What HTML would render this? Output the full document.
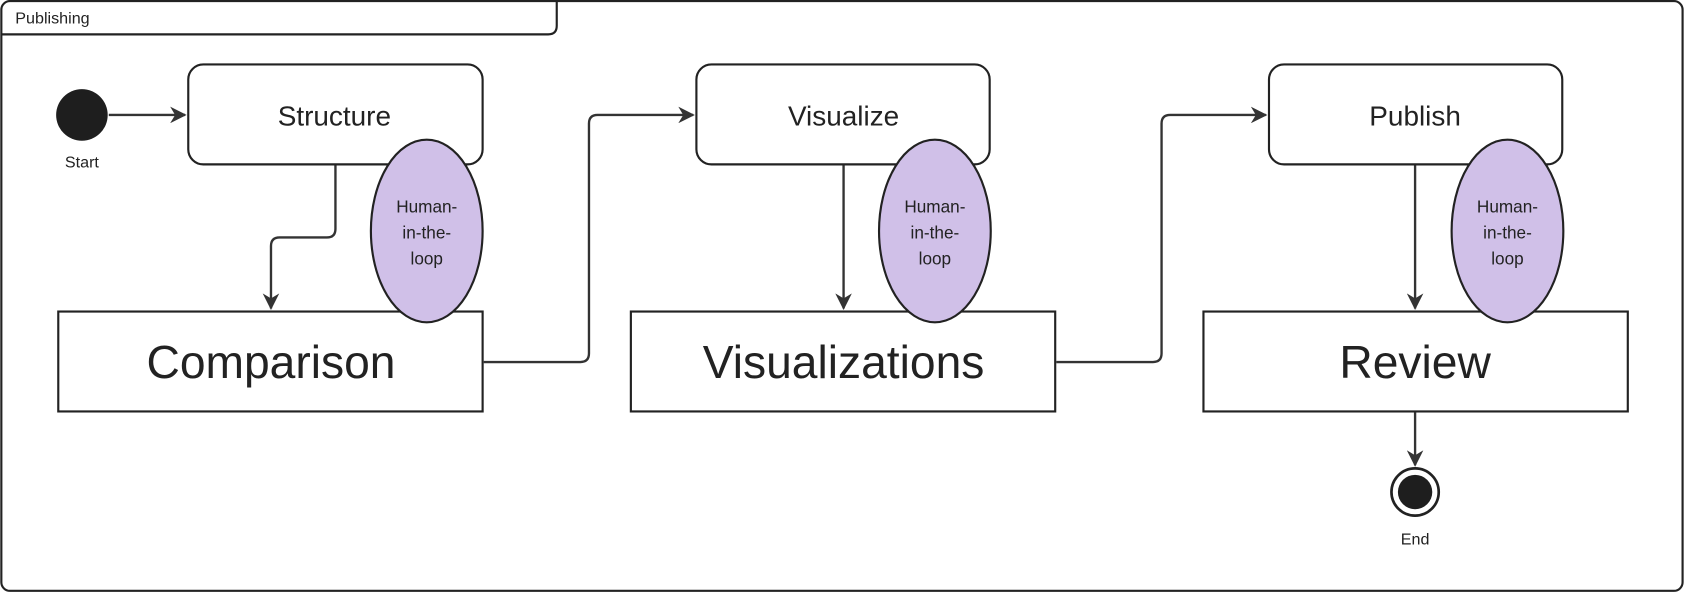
<!DOCTYPE html>
<html><head><meta charset="utf-8"><style>
html,body{margin:0;padding:0;background:#fff;}
svg{display:block;}
text{font-family:"Liberation Sans",sans-serif;fill:#222;}
</style></head><body>
<svg width="1685" height="593" viewBox="0 0 1568 552" xmlns="http://www.w3.org/2000/svg">
<defs>
<marker id="a" viewBox="0 0 10 10" refX="9" refY="5" markerWidth="7" markerHeight="7" orient="auto">
<path d="M0,0 L10,5 L0,10 L3,5 z" fill="#333"/></marker>
</defs>
<rect x="1" y="1" width="1565" height="549" rx="8" fill="#fff" stroke="#222" stroke-width="2"/>
<path d="M1,32 H510 Q518,32 518,24 V1" fill="none" stroke="#222" stroke-width="2"/>
<text x="14" y="22" font-size="15">Publishing</text>

<g fill="none" stroke="#333" stroke-width="2.2">
<path d="M101,107 H172" marker-end="url(#a)"/>
<path d="M312,154 V213 Q312,221 304,221 H260 Q252,221 252,229 V287" marker-end="url(#a)"/>
<path d="M450,337 H540 Q548,337 548,329 V115 Q548,107 556,107 H645" marker-end="url(#a)"/>
<path d="M785,154 V287" marker-end="url(#a)"/>
<path d="M983,337 H1073 Q1081,337 1081,329 V115 Q1081,107 1089,107 H1178" marker-end="url(#a)"/>
<path d="M1317,154 V287" marker-end="url(#a)"/>
<path d="M1317,384 V433" marker-end="url(#a)"/>
</g>

<circle cx="76" cy="107" r="24" fill="#1e1e1e"/>
<text x="76" y="156" font-size="15" text-anchor="middle">Start</text>

<g stroke="#222" stroke-width="2">
<rect x="175" y="60" width="274" height="93" rx="14" fill="#fff"/>
<rect x="648" y="60" width="273" height="93" rx="14" fill="#fff"/>
<rect x="1181" y="60" width="273" height="93" rx="14" fill="#fff"/>
<rect x="54" y="290" width="395" height="93" fill="#fff"/>
<rect x="587" y="290" width="395" height="93" fill="#fff"/>
<rect x="1120" y="290" width="395" height="93" fill="#fff"/>
<ellipse cx="397" cy="215" rx="52" ry="85" fill="#d0c0e8"/>
<ellipse cx="870" cy="215" rx="52" ry="85" fill="#d0c0e8"/>
<ellipse cx="1403" cy="215" rx="52" ry="85" fill="#d0c0e8"/>
</g>

<g font-size="26" text-anchor="middle">
<text x="311" y="117">Structure</text>
<text x="785" y="117">Visualize</text>
<text x="1317" y="117">Publish</text>
</g>
<g font-size="43" text-anchor="middle">
<text x="252" y="352">Comparison</text>
<text x="785" y="352">Visualizations</text>
<text x="1317" y="352">Review</text>
</g>
<g font-size="16" text-anchor="middle">
<text x="397" y="198">Human-</text><text x="397" y="222">in-the-</text><text x="397" y="246">loop</text>
<text x="870" y="198">Human-</text><text x="870" y="222">in-the-</text><text x="870" y="246">loop</text>
<text x="1403" y="198">Human-</text><text x="1403" y="222">in-the-</text><text x="1403" y="246">loop</text>
</g>

<circle cx="1317" cy="458" r="22" fill="#fff" stroke="#222" stroke-width="2.5"/>
<circle cx="1317" cy="458" r="16" fill="#1e1e1e"/>
<text x="1317" y="507" font-size="15" text-anchor="middle">End</text>
</svg>
</body></html>
